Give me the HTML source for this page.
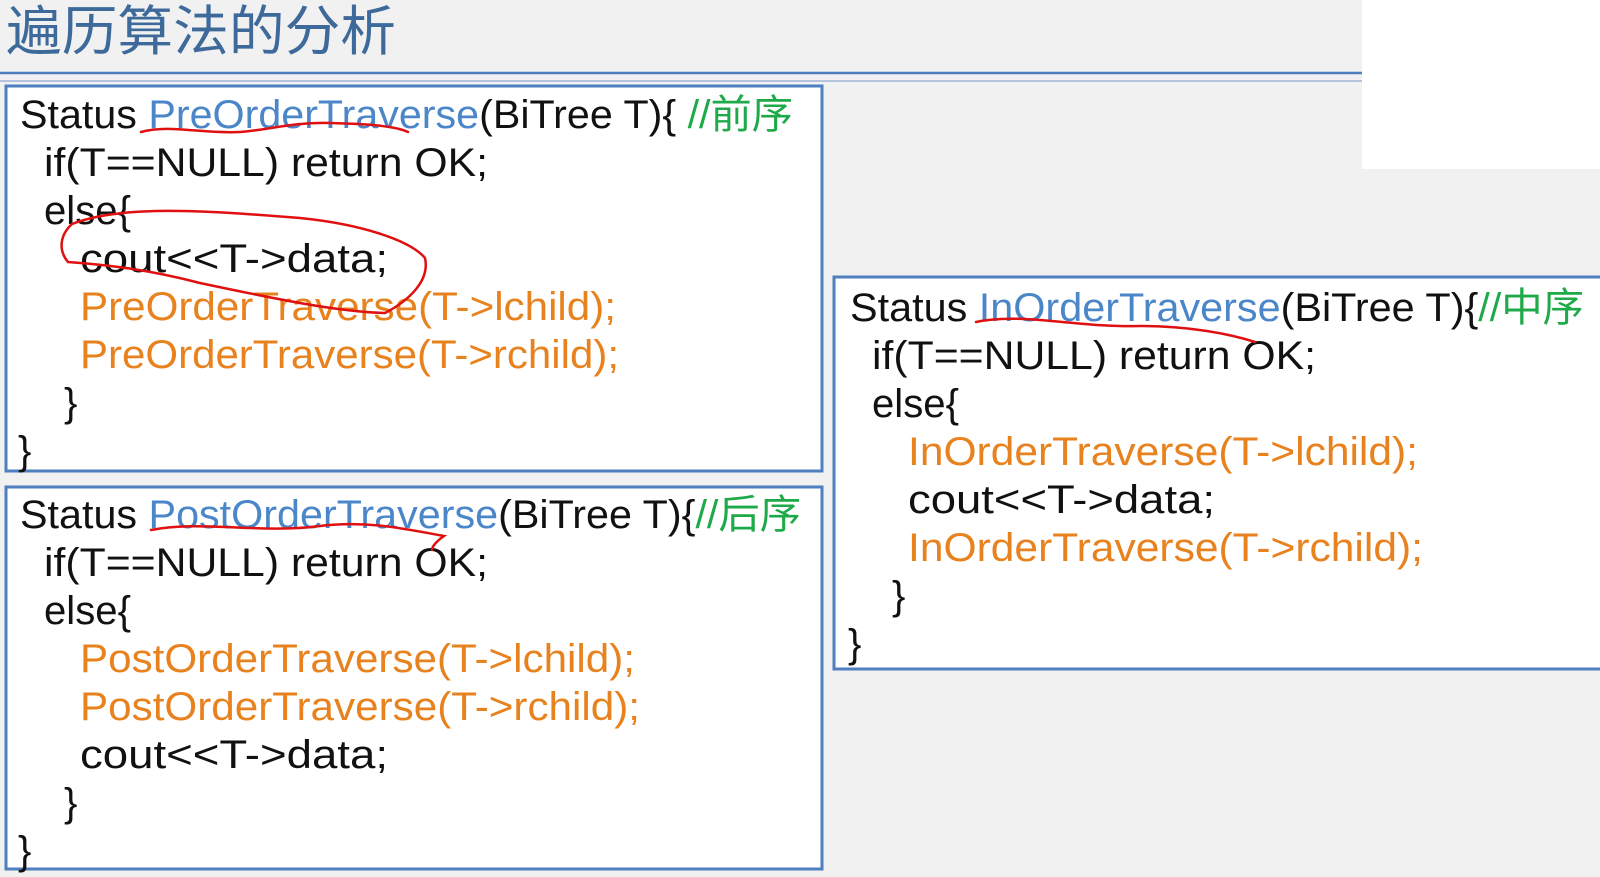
<!DOCTYPE html>
<html><head><meta charset="utf-8"><style>
html,body{margin:0;padding:0;background:#f1f1f1;width:1600px;height:877px;overflow:hidden}
svg{display:block}
text{font-family:"Liberation Sans","Noto Sans CJK SC",sans-serif;font-size:40px;fill:#111}
.b{fill:#4a86c8}.o{fill:#e8821e}.g{fill:#1faa4a}
</style></head><body>
<svg width="1600" height="877" viewBox="0 0 1600 877" xmlns="http://www.w3.org/2000/svg">
<rect x="1362" y="0" width="238" height="169" fill="#fff"/>
<text x="6" y="50" style="font-size:54px;fill:#3d6a9a" textLength="390" lengthAdjust="spacingAndGlyphs">遍历算法的分析</text>
<line x1="0" y1="73" x2="1362" y2="73" stroke="#4f7fbf" stroke-width="2.5"/>
<line x1="0" y1="81" x2="1362" y2="81" stroke="#9fb6d8" stroke-width="1.5"/>
<rect x="6" y="86" width="816" height="385" fill="#fff" stroke="#4f7fbf" stroke-width="3"/>
<rect x="6" y="487" width="816" height="382" fill="#fff" stroke="#4f7fbf" stroke-width="3"/>
<rect x="834" y="277" width="770" height="392" fill="#fff" stroke="#4f7fbf" stroke-width="3"/>

<text x="20" y="128" textLength="773" lengthAdjust="spacingAndGlyphs">Status <tspan class="b">PreOrderTraverse</tspan>(BiTree T){ <tspan class="g">//前序</tspan></text>
<text x="44" y="176" textLength="444" lengthAdjust="spacingAndGlyphs">if(T==NULL) return OK;</text>
<text x="44" y="224" textLength="87" lengthAdjust="spacingAndGlyphs">else{</text>
<text x="80" y="272" textLength="308" lengthAdjust="spacingAndGlyphs">cout&lt;&lt;T-&gt;data;</text>
<text x="80" y="320" class="o" textLength="536" lengthAdjust="spacingAndGlyphs">PreOrderTraverse(T-&gt;lchild);</text>
<text x="80" y="368" class="o" textLength="539" lengthAdjust="spacingAndGlyphs">PreOrderTraverse(T-&gt;rchild);</text>
<text x="64" y="416">}</text>
<text x="18" y="464">}</text>

<text x="20" y="528" textLength="781" lengthAdjust="spacingAndGlyphs">Status <tspan class="b">PostOrderTraverse</tspan>(BiTree T){<tspan class="g">//后序</tspan></text>
<text x="44" y="576" textLength="444" lengthAdjust="spacingAndGlyphs">if(T==NULL) return OK;</text>
<text x="44" y="624" textLength="87" lengthAdjust="spacingAndGlyphs">else{</text>
<text x="80" y="672" class="o" textLength="555" lengthAdjust="spacingAndGlyphs">PostOrderTraverse(T-&gt;lchild);</text>
<text x="80" y="720" class="o" textLength="560" lengthAdjust="spacingAndGlyphs">PostOrderTraverse(T-&gt;rchild);</text>
<text x="80" y="768" textLength="308" lengthAdjust="spacingAndGlyphs">cout&lt;&lt;T-&gt;data;</text>
<text x="64" y="816">}</text>
<text x="18" y="864">}</text>

<text x="850" y="321" textLength="734" lengthAdjust="spacingAndGlyphs">Status <tspan class="b">InOrderTraverse</tspan>(BiTree T){<tspan class="g">//中序</tspan></text>
<text x="872" y="369" textLength="444" lengthAdjust="spacingAndGlyphs">if(T==NULL) return OK;</text>
<text x="872" y="417" textLength="87" lengthAdjust="spacingAndGlyphs">else{</text>
<text x="908" y="465" class="o" textLength="510" lengthAdjust="spacingAndGlyphs">InOrderTraverse(T-&gt;lchild);</text>
<text x="908" y="513" textLength="307" lengthAdjust="spacingAndGlyphs">cout&lt;&lt;T-&gt;data;</text>
<text x="908" y="561" class="o" textLength="515" lengthAdjust="spacingAndGlyphs">InOrderTraverse(T-&gt;rchild);</text>
<text x="892" y="609">}</text>
<text x="848" y="657">}</text>

<g fill="none" stroke="#e01010" stroke-width="2.5" stroke-linecap="round">
<path d="M141 132 C170 124 200 134 240 132 C270 130 290 122 330 123 C370 124 395 126 408 132"/>
<path d="M72 224 C120 205 200 210 300 218 C360 224 410 240 425 258 C430 280 410 300 385 313 C340 312 280 300 200 283 C150 270 110 265 68 262 C58 250 60 235 72 224"/>
<path d="M151 530 C200 520 260 534 320 526 C370 520 410 530 444 536 C438 540 432 546 432 550"/>
<path d="M976 322 C1020 312 1080 328 1140 326 C1190 326 1230 334 1255 342"/>
</g>
</svg>
</body></html>
